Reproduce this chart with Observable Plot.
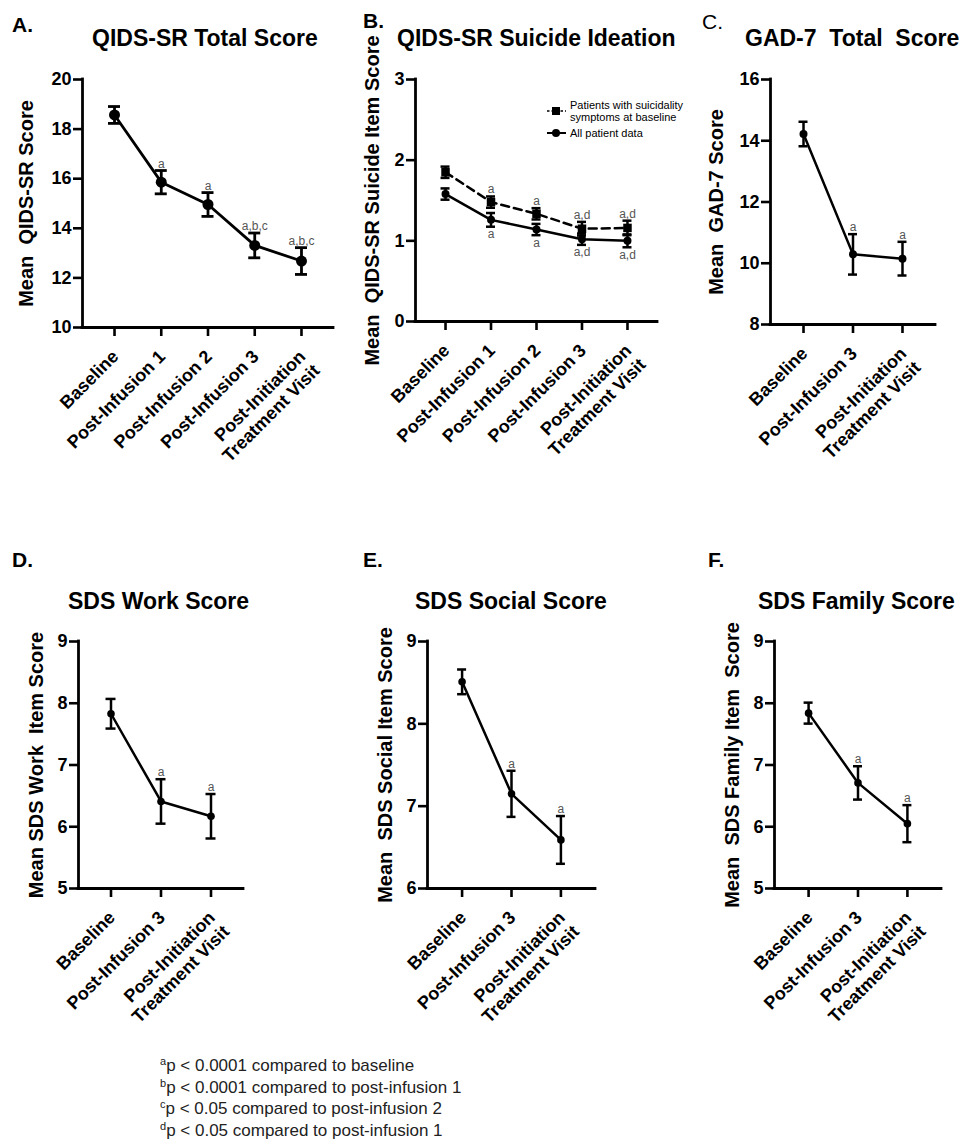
<!DOCTYPE html>
<html><head><meta charset="utf-8">
<script src="https://cdn.jsdelivr.net/npm/d3@7"></script>
<script src="https://cdn.jsdelivr.net/npm/@observablehq/plot@0.6"></script>
<style>
body{margin:0;background:#fff;}
#wrap{position:relative;width:959px;height:1140px;overflow:hidden;font-family:"Liberation Sans",Arial,sans-serif;}
.p{position:absolute;}
#overlay{position:absolute;left:0;top:0;pointer-events:none;}
</style></head><body><div id="wrap"></div>
<script>
// ---------- data ----------
const catsFive = ["Baseline", "Post-Infusion 1", "Post-Infusion 2", "Post-Infusion 3", "Post-Initiation\nTreatment Visit"];
const catsThree = ["Baseline", "Post-Infusion 3", "Post-Initiation\nTreatment Visit"];

const qidsTotalMean = [18.57, 15.86, 14.96, 13.31, 12.68];
const qidsTotalSE   = [0.34, 0.47, 0.48, 0.50, 0.54];
const qidsTotalSig  = ["", "a", "a", "a,b,c", "a,b,c"];
const qidsTicks     = [10, 12, 14, 16, 18, 20];

const siSuicidalMean = [1.85, 1.48, 1.335, 1.15, 1.16];
const siSuicidalSE   = [0.07, 0.07, 0.07, 0.085, 0.09];
const siSuicidalSig  = ["", "a", "a", "a,d", "a,d"];
const siAllMean      = [1.58, 1.26, 1.14, 1.02, 1.00];
const siAllSE        = [0.07, 0.085, 0.07, 0.07, 0.08];
const siAllSig       = ["", "a", "a", "a,d", "a,d"];
const siTicks        = [0, 1, 2, 3];

const gadMean  = [14.22, 10.29, 10.15];
const gadSE    = [0.40, 0.66, 0.55];
const gadSig   = ["", "a", "a"];
const gadTicks = [8, 10, 12, 14, 16];

const workMean   = [7.83, 6.41, 6.17];
const workSE     = [0.24, 0.36, 0.36];
const socialMean = [8.51, 7.15, 6.59];
const socialSE   = [0.15, 0.28, 0.29];
const familyMean = [7.84, 6.71, 6.05];
const familySE   = [0.17, 0.27, 0.30];
const sdsSig     = ["", "a", "a"];
const workTicks   = [5, 6, 7, 8, 9];
const socialTicks = [6, 7, 8, 9];
const familyTicks = [5, 6, 7, 8, 9];

const titles  = ["QIDS-SR Total Score", "QIDS-SR Suicide Ideation", "GAD-7  Total  Score", "SDS Work Score", "SDS Social Score", "SDS Family Score"];
const letters = ["A.", "B.", "C.", "D.", "E.", "F."];
const yLabels = ["Mean  QIDS-SR Score", "Mean  QIDS-SR Suicide Item Score", "Mean  GAD-7 Score", "Mean SDS Work  Item Score", "Mean  SDS Social Item Score", "Mean  SDS Family Item  Score"];
const legendLabels = [["Patients with suicidality", "symptoms at baseline"], ["All patient data"]];
const footSup  = ["a", "b", "c", "d"];
const footText = ["p < 0.0001 compared to baseline", "p < 0.0001 compared to post-infusion 1", "p < 0.05 compared to post-infusion 2", "p < 0.05 compared to post-infusion 1"];

// ---------- layout ----------
const panels = [
  {cats: catsFive, ticks: qidsTicks, frame: [82, 333, 79, 327], svg: [0, 342, 60, 445], pad: 0.685, lw: 2.8, cap: 6, ylx: 26,
   series: [{mean: qidsTotalMean, se: qidsTotalSE, sig: qidsTotalSig, above: true, symbol: "circle", r: 5.5}]},
  {cats: catsFive, ticks: siTicks, frame: [415, 657, 79, 321], svg: [345, 668, 60, 445], pad: 0.66, lw: 2.5, cap: 4.5, ylx: 372,
   series: [{mean: siSuicidalMean, se: siSuicidalSE, sig: siSuicidalSig, above: true, symbol: "square", r: 4.8, dash: "8,5"},
            {mean: siAllMean, se: siAllSE, sig: siAllSig, above: false, symbol: "circle", r: 4}]},
  {cats: catsThree, ticks: gadTicks, frame: [770, 935, 79, 324], svg: [690, 959, 60, 445], pad: 0.667, lw: 2.5, cap: 4.5, ylx: 716,
   series: [{mean: gadMean, se: gadSE, sig: gadSig, above: true, symbol: "circle", r: 4}]},
  {cats: catsThree, ticks: workTicks, frame: [78, 243, 641, 888], svg: [0, 300, 620, 1040], pad: 0.65, lw: 2.5, cap: 5, ylx: 36,
   series: [{mean: workMean, se: workSE, sig: sdsSig, above: true, symbol: "circle", r: 3.8}]},
  {cats: catsThree, ticks: socialTicks, frame: [427, 595, 641, 888], svg: [335, 640, 620, 1040], pad: 0.7, lw: 2.5, cap: 4.5, ylx: 385,
   series: [{mean: socialMean, se: socialSE, sig: sdsSig, above: true, symbol: "circle", r: 3.8}]},
  {cats: catsThree, ticks: familyTicks, frame: [774, 941, 641, 888], svg: [680, 959, 620, 1040], pad: 0.69, lw: 2.5, cap: 4.5, ylx: 732,
   series: [{mean: familyMean, se: familySE, sig: sdsSig, above: true, symbol: "circle", r: 3.8}]}
];

const wrap = document.getElementById("wrap");
const FONT = "Liberation Sans, Arial, Helvetica, sans-serif";

panels.forEach((cfg, k) => {
  const [fl, fr, ft, fb] = cfg.frame;
  const [sx0, sx1, sy0, sy1] = cfg.svg;
  const n = cfg.cats.length;
  const xDom = [-cfg.pad, n - 1 + cfg.pad];
  const yDom = d3.extent(cfg.ticks);
  const catRows = cfg.cats.map((c, i) => ({i, label: c}));
  const marks = [
    Plot.ruleY([yDom[0]], {strokeWidth: 2.8, strokeLinecap: "square"}),
    Plot.ruleX([xDom[0]], {strokeWidth: 2.8, strokeLinecap: "square"}),
    Plot.axisY({ticks: cfg.ticks, tickFormat: d => String(d), tickSize: 9, tickPadding: 2, fontSize: 18, fontWeight: "bold", strokeWidth: 2.6, label: null, fill: "black", stroke: "black"}),
    Plot.axisX({ticks: d3.range(n), tickSize: 9, tickFormat: () => "", strokeWidth: 2.6, label: null, stroke: "black"}),
    Plot.text(catRows, {x: "i", y: () => yDom[0], text: "label", rotate: -45, textAnchor: "end", lineAnchor: "top", lineHeight: 1.12, dx: -5, dy: 20, fontSize: 18, fontWeight: "bold", fill: "black"}),
    Plot.text([yLabels[k]], {text: d => d, frameAnchor: "left", rotate: -90, dx: cfg.ylx - fl, lineAnchor: "middle", textAnchor: "middle", fontSize: 20, fontWeight: "bold", fill: "black"})
  ];
  cfg.series.forEach(s => {
    const rows = s.mean.map((m, i) => ({i, mean: m, lo: m - s.se[i], hi: m + s.se[i], sig: s.sig[i]}));
    marks.push(
      Plot.line(rows, {x: "i", y: "mean", stroke: "black", strokeWidth: cfg.lw, strokeDasharray: s.dash}),
      Plot.ruleX(rows, {x: "i", y1: "lo", y2: "hi", stroke: "black", strokeWidth: cfg.lw}),
      Plot.ruleY(rows, {x1: "i", x2: "i", y: "lo", insetLeft: -cfg.cap, insetRight: -cfg.cap, stroke: "black", strokeWidth: cfg.lw}),
      Plot.ruleY(rows, {x1: "i", x2: "i", y: "hi", insetLeft: -cfg.cap, insetRight: -cfg.cap, stroke: "black", strokeWidth: cfg.lw}),
      Plot.dot(rows, {x: "i", y: "mean", r: s.r, symbol: s.symbol, fill: "black", stroke: "none"}),
      Plot.text(rows.filter(d => d.sig), {x: "i", y: s.above ? "hi" : "lo", text: "sig", dy: s.above ? -3 : 3, lineAnchor: s.above ? "bottom" : "top", fontSize: 12, fill: "#555"})
    );
  });
  const chart = Plot.plot({
    width: sx1 - sx0, height: sy1 - sy0,
    marginLeft: fl - sx0, marginRight: sx1 - fr, marginTop: ft - sy0, marginBottom: sy1 - fb,
    x: {type: "linear", domain: xDom},
    y: {type: "linear", domain: yDom},
    style: {fontFamily: FONT, background: "transparent", overflow: "visible", maxWidth: "none", color: "black"},
    marks
  });
  chart.setAttribute("class", (chart.getAttribute("class") || "") + " p");
  chart.style.position = "absolute";
  chart.style.left = sx0 + "px";
  chart.style.top = sy0 + "px";
  wrap.appendChild(chart);
});

// ---------- overlay text: letters, titles, legend, footnotes ----------
const ov = d3.select(wrap).append("svg").attr("id", "overlay").attr("width", 959).attr("height", 1140)
  .style("font-family", FONT);
const letterPos = [[12, 32, "bold"], [363, 28, "bold"], [702, 29, "normal"], [12, 567, "bold"], [363, 567, "bold"], [708, 567, "bold"]];
letters.forEach((t, k) => ov.append("text").attr("x", letterPos[k][0]).attr("y", letterPos[k][1])
  .attr("font-size", 21).attr("font-weight", letterPos[k][2]).text(t));
const titlePos = [[92, 46], [397, 46], [745, 46], [68, 609], [415, 609], [758, 609]];
titles.forEach((t, k) => ov.append("text").attr("x", titlePos[k][0]).attr("y", titlePos[k][1])
  .attr("font-size", 23).attr("font-weight", "bold").style("white-space", "pre").attr("xml:space", "preserve").text(t));

// legend (panel B)
const lg = ov.append("g");
lg.append("line").attr("x1", 547).attr("x2", 566).attr("y1", 111).attr("y2", 111).attr("stroke", "black").attr("stroke-width", 1.5).attr("stroke-dasharray", "2.5,2");
lg.append("rect").attr("x", 552).attr("y", 107).attr("width", 8).attr("height", 8).attr("fill", "black");
lg.append("line").attr("x1", 547).attr("x2", 566).attr("y1", 133).attr("y2", 133).attr("stroke", "black").attr("stroke-width", 2);
lg.append("circle").attr("cx", 556).attr("cy", 133).attr("r", 4).attr("fill", "black");
legendLabels[0].forEach((t, j) => lg.append("text").attr("x", 570).attr("y", 109 + j * 12).attr("font-size", 11).text(t));
lg.append("text").attr("x", 570).attr("y", 137).attr("font-size", 11).text(legendLabels[1][0]);

// footnotes
footText.forEach((t, j) => {
  const tx = ov.append("text").attr("x", 160).attr("y", 1071 + j * 21.5).attr("font-size", 17).attr("fill", "#222");
  tx.append("tspan").attr("font-size", 11).attr("dy", -6).text(footSup[j]);
  tx.append("tspan").attr("dy", 6).text(t);
});
</script>
</body></html>
